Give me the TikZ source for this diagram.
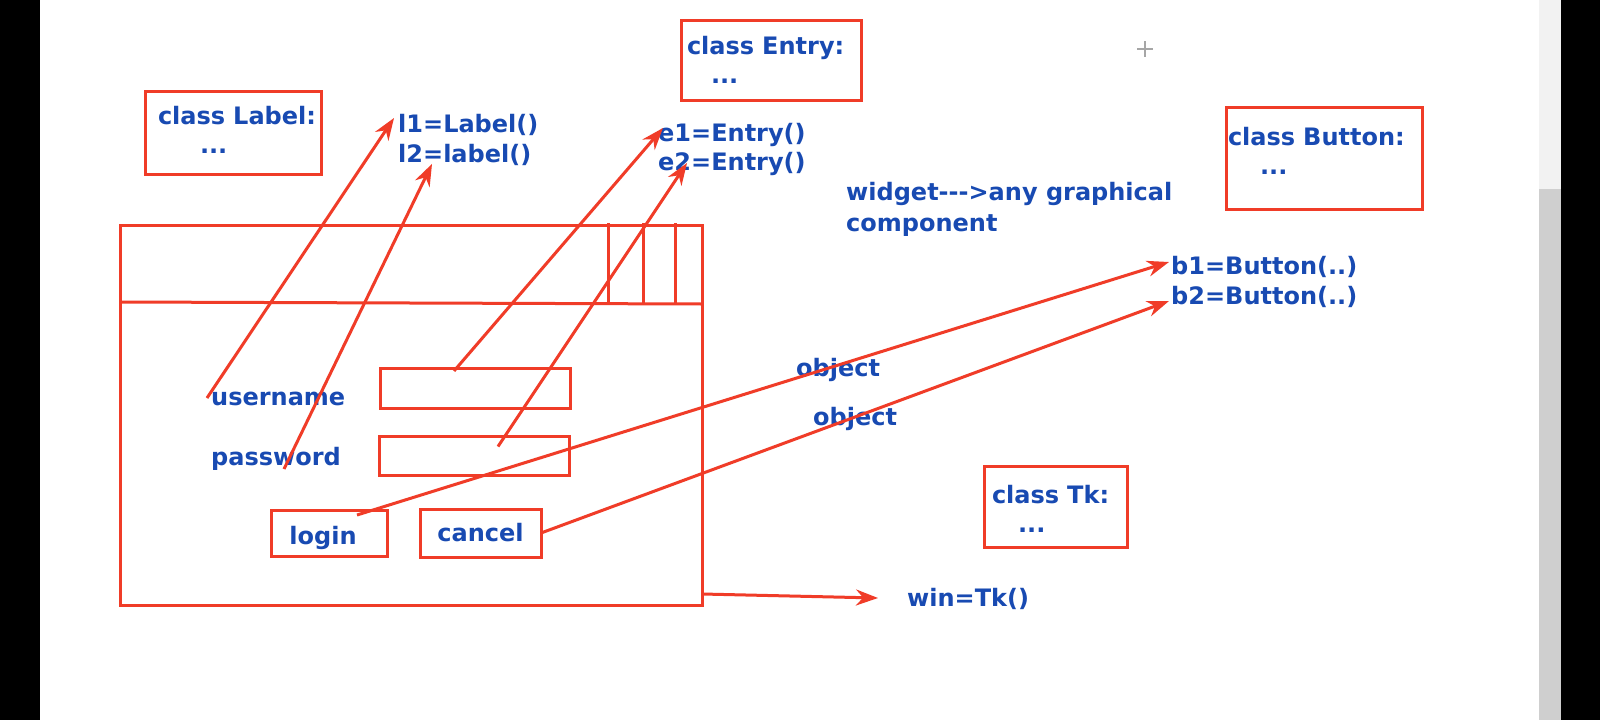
\documentclass[tikz,border=0pt]{standalone}
\usepackage{fontspec}
\setmainfont{DejaVu Sans}
\usetikzlibrary{
    arrows.meta,
    positioning,
    calc,
}

\definecolor{penred}{RGB}{240,60,40}
\definecolor{inkblue}{RGB}{24,74,178}

\begin{document}
\begin{tikzpicture}[
    x=1pt, y=-1pt,
    font=\fontsize{24}{31}\selectfont\bfseries,
    code/.style={text=inkblue, inner sep=0pt, anchor=west},
    classbox/.style={draw=penred, line width=3pt, text=inkblue, anchor=north west,
                     font=\fontsize{24}{29}\selectfont\bfseries,
                     align=left, inner ysep=0pt, outer sep=0pt},
    widgetbox/.style={draw=penred, line width=3pt, text=inkblue, anchor=north west,
                      inner sep=0pt, outer sep=0pt},
    link/.style={draw=penred, line width=3pt, -{Stealth[length=22pt,width=16pt]}}
]

% screen frame
\useasboundingbox (0,0) rectangle (1600,720);
\fill[white] (40,0) rectangle (1539,720);
\fill[black] (0,0) rectangle (40,720);
\fill[black] (1561,0) rectangle (1600,720);
\fill[gray!10] (1539,0) rectangle (1561,189);
\fill[gray!38] (1539,189) rectangle (1561,720);
\draw[gray!70, line width=1.4pt] (1137,49) -- (1153,49) (1145,41) -- (1145,57);

% classes
\node[classbox, minimum width=176pt, minimum height=83pt, text width=150pt,
      inner xsep=13pt, text depth=34pt] (labelcls) at (145,91)
    {\mbox{class Label:}\\\hspace*{42pt}...};
\node[classbox, minimum width=180pt, minimum height=80pt, text width=168pt,
      inner xsep=6pt] (entrycls) at (681,20)
    {\mbox{class Entry:}\\\hspace*{24pt}...};
\node[classbox, minimum width=196pt, minimum height=102pt, text width=192pt,
      inner xsep=2pt, text depth=42.8pt] (buttoncls) at (1226,107)
    {\mbox{class Button:}\\\hspace*{32pt}...};
\node[classbox, minimum width=143pt, minimum height=81pt, text width=127pt,
      inner xsep=8pt, text depth=25.2pt] (tkcls) at (984,466)
    {\mbox{class Tk:}\\\hspace*{26pt}...};

% the window
\node[widgetbox, minimum width=582pt, minimum height=380pt] (window) at (120,225) {};
\draw[penred, line width=3pt] ($(window.north west)+(0,77)$) -- ($(window.north east)+(0,79)$);
\foreach \x in {488,523,555}
    \draw[penred, line width=3pt] ($(window.north west)+(\x,-2)$) -- +(0,80);

\node[code] (username) at (211,399) {username};
\node[code] (password) at (211,459) {password};
\node[widgetbox, minimum width=190pt, minimum height=40pt] (userbox) at (380,368) {};
\node[widgetbox, minimum width=190pt, minimum height=39pt] (passbox) at (379,436) {};
\node[widgetbox, minimum width=116pt, minimum height=46pt, text height=29pt]
    (loginbtn) at (271,510) {login\hspace*{12pt}};
\node[widgetbox, minimum width=121pt, minimum height=48pt] (cancelbtn) at (420,509) {cancel};

% objects
\node[code] (l1) at (398,125) {l1=Label()};
\node[code] (l2) at (398,155) {l2=label()};
\node[code] (e1) at (658,135) {e1=Entry()};
\node[code] (e2) at (658,164) {e2=Entry()};
\node[code, align=left] (widget) at (846,209) {widget{-}{-}{-}>any graphical\\component};
\node[code] (b1) at (1171,267) {b1=Button(..)};
\node[code] (b2) at (1171,297) {b2=Button(..)};
\node[code] (obj1) at (796,370) {object};
\node[code] (obj2) at (813,419) {object};
\node[code] (win) at (907,599) {win=Tk()};

\draw[link] ($(username.west)+(-4,-1)$) -- ($(l1.west)+(-4,-7)$);
\draw[link] ($(password.west)+(73,10)$) -- ($(l2.south west)+(34,-2)$);
\draw[link] ($(userbox.north)+(-21,3)$) -- ($(e1.west)+(5,-7)$);
\draw[link] ($(passbox.center)+(24,-9)$) -- ($(e2.west)+(29,-1)$);
\draw[link] ($(loginbtn.north)+(28,5)$) -- ($(b1.west)+(-2,-5)$);
\draw[link] (cancelbtn.east) -- ($(b2.west)+(-2,4)$);
\draw[link] ($(window.south east)+(0,-11)$) -- ($(win.west)+(-29,-1)$);

\end{tikzpicture}
\end{document}
